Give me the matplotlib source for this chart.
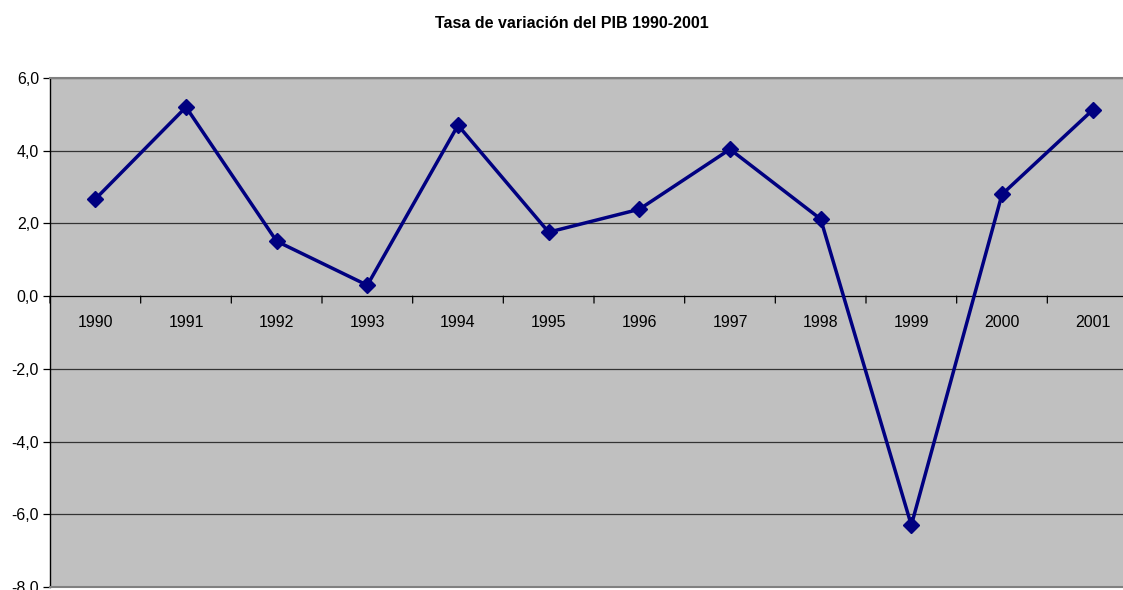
import matplotlib
matplotlib.use("Agg")
import matplotlib.pyplot as plt

plt.rcParams['font.family'] = ['Liberation Sans', 'DejaVu Sans']

years = ['1990', '1991', '1992', '1993', '1994', '1995', '1996', '1997', '1998', '1999', '2000', '2001']
pib = [2.67, 5.2, 1.51, 0.30, 4.7, 1.76, 2.39, 4.04, 2.12, -6.3, 2.8, 5.12]
yticks = [-8, -6, -4, -2, 0, 2, 4, 6]

fig = plt.figure(figsize=(11.23, 5.90), dpi=100)
W, H = 1123, 590
ax = fig.add_axes([50 / W, 3 / H, 1088 / W, 509 / H])
ax.set_facecolor('#C0C0C0')

x = list(range(len(years)))
ax.set_xlim(-0.5, len(years) - 0.5)
ax.set_ylim(-8, 6)

for yv in yticks:
    ax.axhline(yv, color='black' if yv == 0 else '#333333', lw=0.9, zorder=1)

ax.plot(x, pib, color='#000080', lw=2.5, marker='D', ms=8, mec='#000080', mfc='#000080', zorder=3, clip_on=False)

ax.set_yticks(yticks)
ax.set_yticklabels([f"{v:.1f}".replace('.', ',') for v in yticks], fontsize=11.5)
ax.tick_params(axis='y', length=5, width=0.9, color='black', pad=3)

ax.set_xticks([])
for xb in [i - 0.5 for i in range(len(years) + 1)]:
    ax.annotate('', xy=(xb, 0), xytext=(0, -5), textcoords='offset points',
                arrowprops=dict(arrowstyle='-', color='black', lw=0.9, shrinkA=0, shrinkB=0))
for xi, lab in zip(x, years):
    ax.annotate(lab, xy=(xi, 0), xytext=(0, -13.5), textcoords='offset points',
                ha='center', va='top', fontsize=11.5)

for s in ['top', 'right', 'bottom']:
    ax.spines[s].set_color('#808080')
    ax.spines[s].set_linewidth(1.5)
ax.spines['left'].set_color('black')
ax.spines['left'].set_linewidth(1.0)

fig.text(572 / W, 1 - 23 / H, 'Tasa de variación del PIB 1990-2001', ha='center', va='center',
         fontsize=11.5, fontweight='bold')

fig.savefig('out.png', dpi=100)
